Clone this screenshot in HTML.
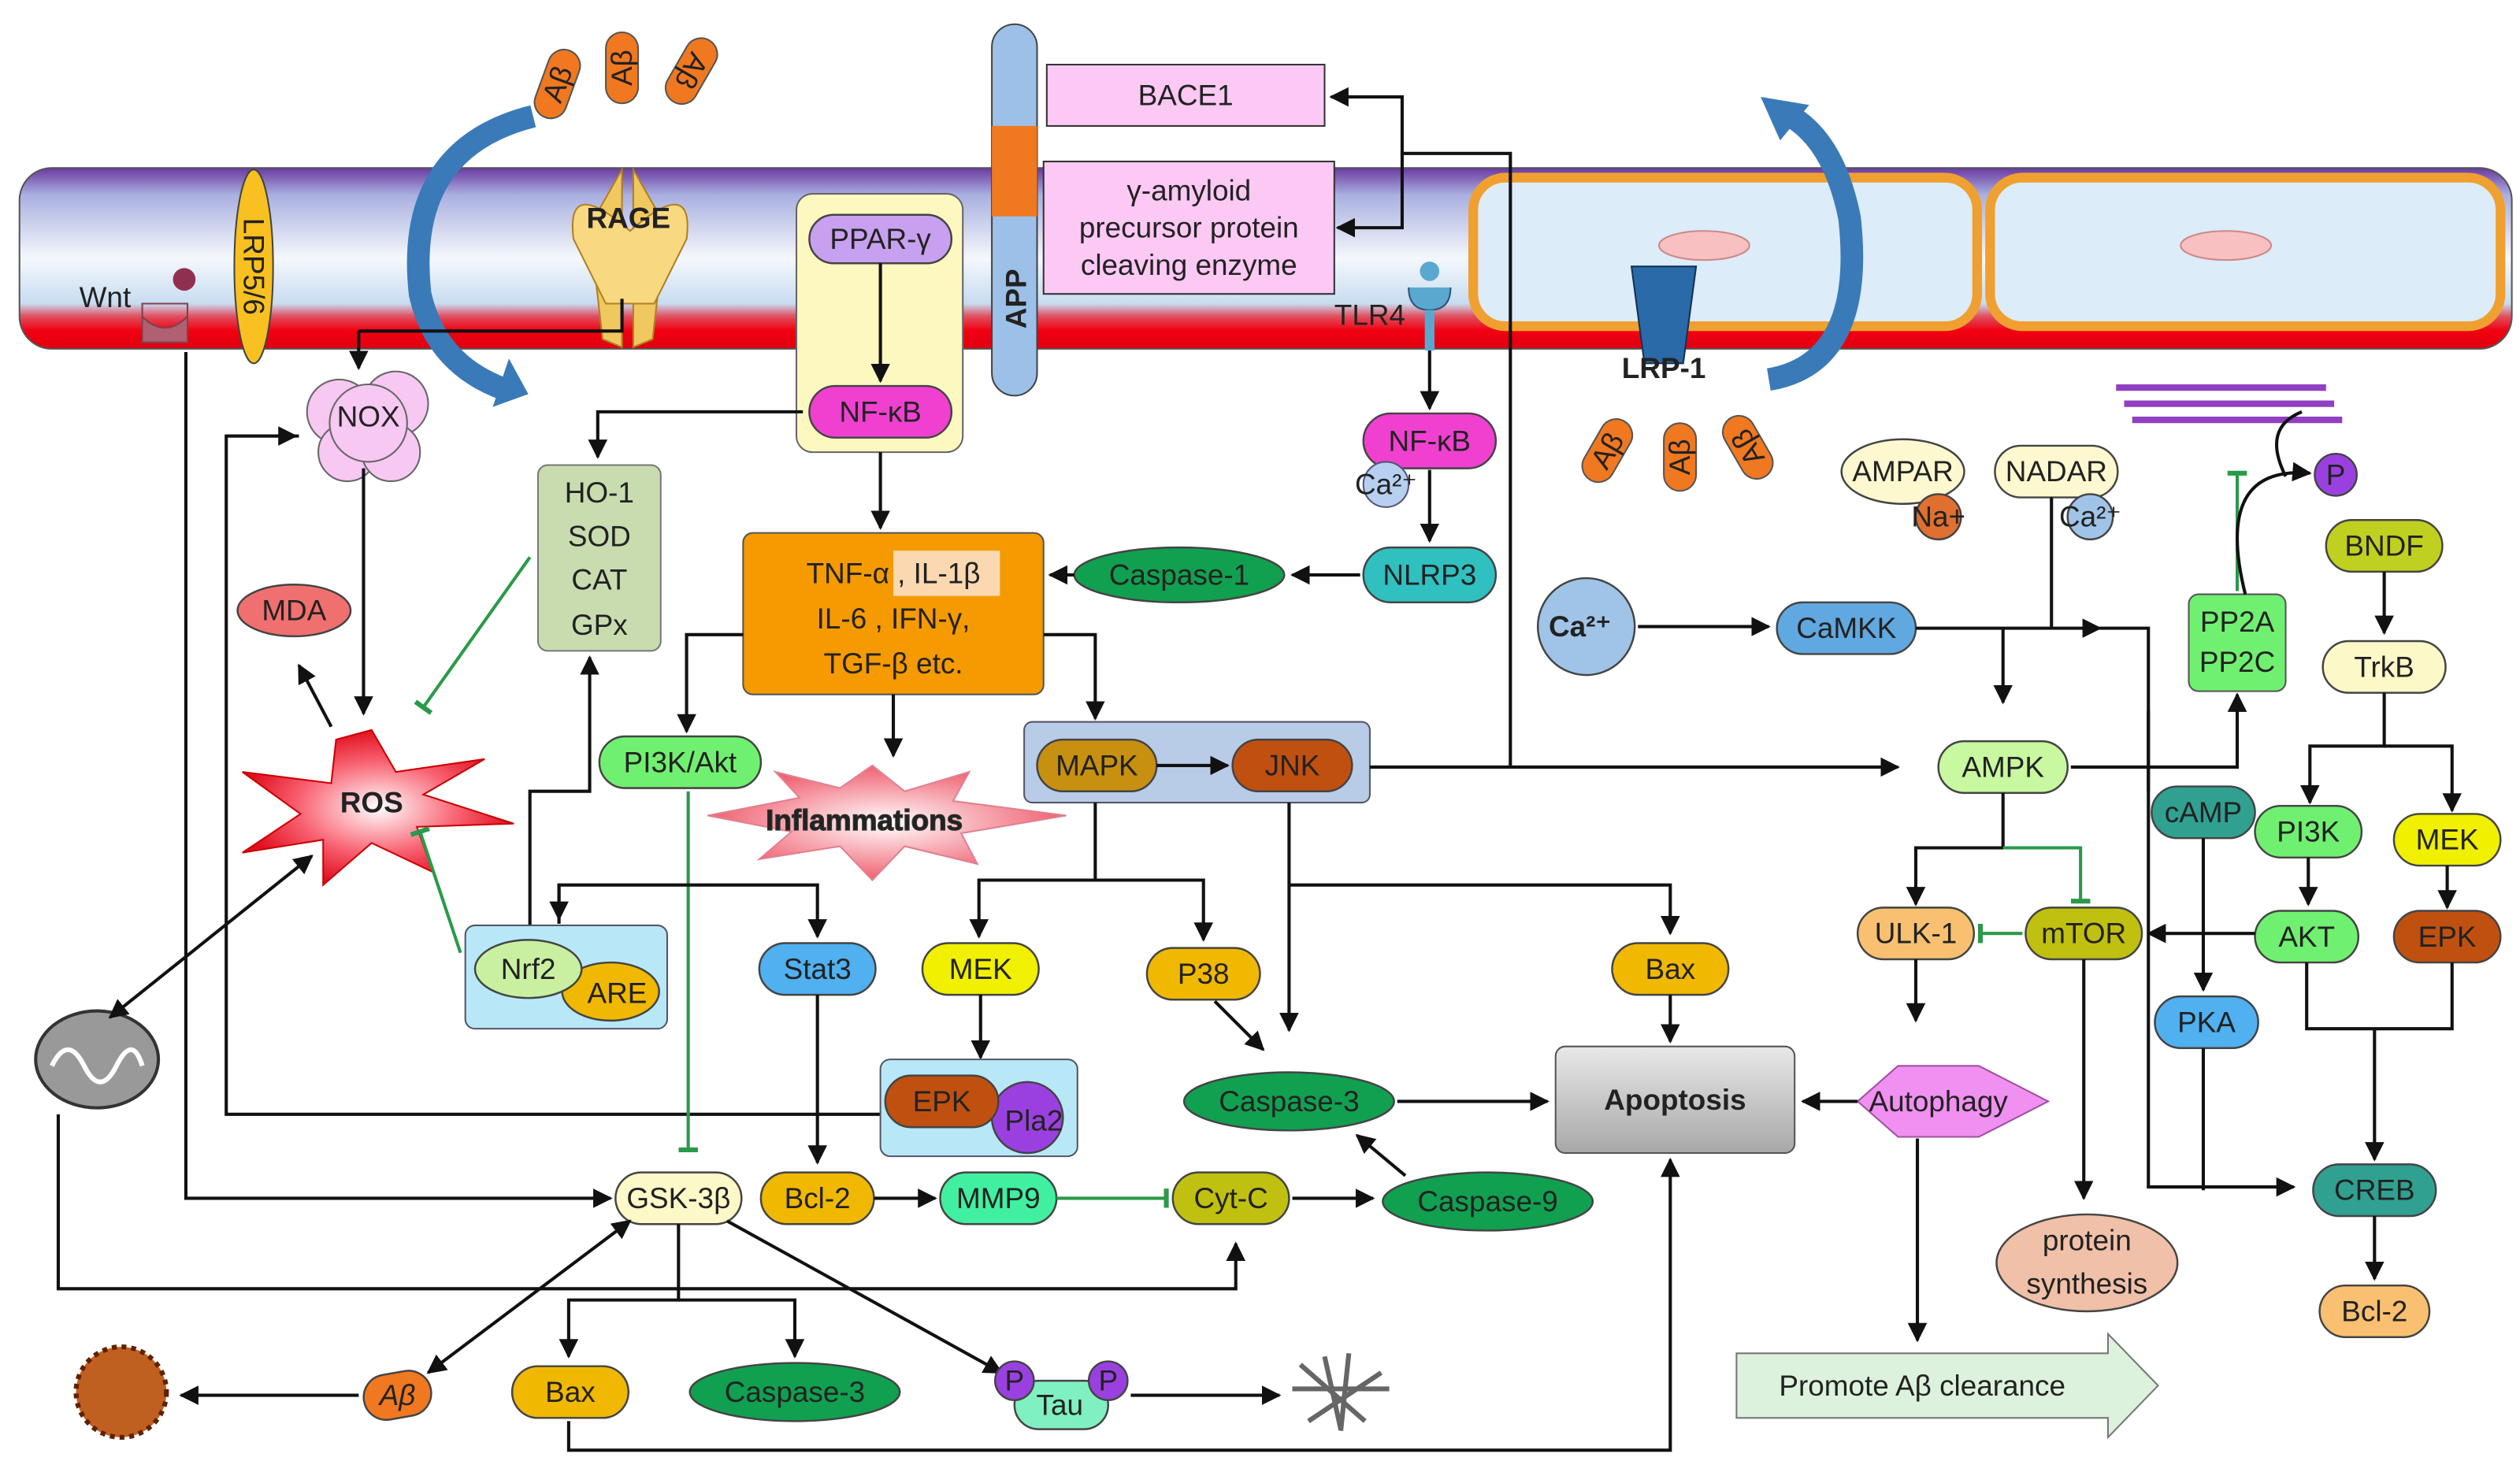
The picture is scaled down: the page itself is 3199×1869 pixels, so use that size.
<!DOCTYPE html>
<html><head><meta charset="utf-8"><style>
html,body{margin:0;padding:0;background:#fff}
svg{display:block}
text{font-family:"Liberation Sans",sans-serif;font-size:18px;fill:#222;text-anchor:middle;dominant-baseline:central}
.l{stroke:#111;stroke-width:2;fill:none}
.g{stroke:#2a9a4a;stroke-width:2;fill:none}
.n{stroke:#444;stroke-width:1.2}
</style></head><body>
<svg width="3199" height="1869" viewBox="0 0 1560 911.5" xmlns="http://www.w3.org/2000/svg">
<defs>
<marker id="a" viewBox="0 0 10 10" refX="9" refY="5" markerWidth="6" markerHeight="6" orient="auto-start-reverse"><path d="M0,0L10,5L0,10z" fill="#111"/></marker>
<marker id="t" viewBox="0 0 10 10" refX="5" refY="5" markerWidth="6" markerHeight="6" orient="auto"><path d="M5,0V10" stroke="#2a9a4a" stroke-width="2.5"/></marker>
<linearGradient id="mem" x1="0" y1="0" x2="0" y2="1">
<stop offset="0" stop-color="#6a3aa0"/><stop offset="0.15" stop-color="#aab0e0"/><stop offset="0.5" stop-color="#f4f8fc"/><stop offset="0.75" stop-color="#c8dcf0"/><stop offset="0.82" stop-color="#e05060"/><stop offset="0.9" stop-color="#f00010"/><stop offset="1" stop-color="#e00010"/></linearGradient>
<linearGradient id="apo" x1="0" y1="0" x2="0" y2="1"><stop offset="0" stop-color="#e8e8e8"/><stop offset="1" stop-color="#a8a8a8"/></linearGradient>
<radialGradient id="ros"><stop offset="0" stop-color="#fff"/><stop offset="0.6" stop-color="#f86070"/><stop offset="1" stop-color="#e01020"/></radialGradient>
<radialGradient id="inf"><stop offset="0" stop-color="#fff"/><stop offset="1" stop-color="#f06070"/></radialGradient>
</defs>

<!-- membrane -->
<rect x="12" y="104" width="1543" height="112" rx="20" fill="url(#mem)" stroke="#555" stroke-width="1"/>
<rect x="912" y="110" width="312" height="92" rx="20" fill="#dcecf8" stroke="#f0a030" stroke-width="6"/>
<rect x="1232" y="110" width="316" height="92" rx="20" fill="#dcecf8" stroke="#f0a030" stroke-width="6"/>
<ellipse cx="1055" cy="152" rx="28" ry="9" fill="#f8c0c0" stroke="#c88"/>
<ellipse cx="1378" cy="152" rx="28" ry="9" fill="#f8c0c0" stroke="#c88"/>

<!-- Wnt / LRP5/6 -->
<path d="M88,188h28v8q-14,14-28,0z M88,188v24h28v-24" fill="#b06070" stroke="#804050"/>
<circle cx="114" cy="173" r="7" fill="#903050"/>
<text x="65" y="184" font-size="17">Wnt</text>
<ellipse cx="157" cy="165" rx="12" ry="60" fill="#f8c020" stroke="#444"/>
<text x="157" y="165" transform="rotate(90 157 165)" font-size="16">LRP5/6</text>

<!-- RAGE -->
<path d="M365,140l20,-35v110l-12,-5z" fill="#f0c860" stroke="#b08020"/>
<path d="M412,140l-20,-35v110l12,-5z" fill="#f0c860" stroke="#b08020"/>
<path d="M355,148q-5,-40 35,-5q40,-35 35,5l-20,40h-30z" fill="#f8d880" stroke="#b08020"/>
<text x="389" y="135" font-weight="bold" font-size="17">RAGE</text>
<g fill="#f07820" stroke="#555"><rect x="335" y="30" width="20" height="44" rx="10" transform="rotate(20 345 52)"/><rect x="375" y="20" width="20" height="44" rx="10"/><rect x="418" y="22" width="20" height="44" rx="10" transform="rotate(30 428 44)"/></g>
<text x="345" y="52" transform="rotate(-70 345 52)" font-size="13">Aβ</text>
<text x="385" y="42" transform="rotate(-90 385 42)" font-size="13">Aβ</text>
<text x="428" y="44" transform="rotate(120 428 44)" font-size="13">Aβ</text>
<path d="M330,72q-80,20 -70,110q10,45 55,60" stroke="#3a7ab8" stroke-width="14" fill="none"/>
<path d="M305,252l22,-8l-12,-22z" fill="#3a7ab8"/>

<!-- APP -->
<rect x="614" y="15" width="28" height="230" rx="14" fill="#9cc0e8" stroke="#444"/>
<rect x="614" y="78" width="28" height="56" fill="#f07820"/>
<text x="629" y="185" transform="rotate(-90 629 185)" font-weight="bold" font-size="16">APP</text>
<rect x="648" y="40" width="172" height="38" fill="#fcc8f4" stroke="#333"/>
<text x="734" y="59">BACE1</text>
<rect x="646" y="100" width="180" height="82" fill="#fcc8f4" stroke="#333"/>
<text x="736" y="118" font-size="17">γ-amyloid</text><text x="736" y="141" font-size="17">precursor protein</text><text x="736" y="164" font-size="17">cleaving enzyme</text>
<path class="l" d="M935,475V95H868V60H824" marker-end="url(#a)"/>
<path class="l" d="M868,95V141H828" marker-end="url(#a)"/>

<!-- PPAR box -->
<rect x="493" y="120" width="103" height="160" rx="10" fill="#fdf8c0" stroke="#666"/>
<rect x="501" y="133" width="88" height="30" rx="15" fill="#c8a0f0" class="n"/><text x="545" y="148">PPAR-γ</text>
<rect x="501" y="239" width="88" height="32" rx="16" fill="#f040d0" class="n"/><text x="545" y="255">NF-κB</text>
<path class="l" d="M545,163V236" marker-end="url(#a)"/>
<path class="l" d="M497,255H370V283" marker-end="url(#a)"/>
<path class="l" d="M545,280V327" marker-end="url(#a)"/>

<!-- TLR4 -->
<path d="M872,178q0,14 13,14q13,0 13,-14" fill="#5aa8d0" stroke="#357"/>
<rect x="882" y="192" width="6" height="25" fill="#5aa8d0"/>
<circle cx="885" cy="168" r="6" fill="#5aa8d0"/>
<text x="848" y="195" font-size="16">TLR4</text>
<path class="l" d="M885,217V253" marker-end="url(#a)"/>
<rect x="844" y="256" width="82" height="34" rx="17" fill="#f040d0" class="n"/><text x="885" y="273">NF-κB</text>
<circle cx="858" cy="300" r="14" fill="#b8d0f0" stroke="#557"/><text x="858" y="300" font-size="12">Ca²⁺</text>
<path class="l" d="M885,291V335" marker-end="url(#a)"/>
<rect x="844" y="339" width="82" height="34" rx="17" fill="#30c0c0" class="n"/><text x="885" y="356">NLRP3</text>
<path class="l" d="M842,356H800" marker-end="url(#a)"/>
<ellipse cx="730" cy="356" rx="65" ry="17" fill="#10a050" class="n"/><text x="730" y="356">Caspase-1</text>
<path class="l" d="M665,356H650" marker-end="url(#a)"/>

<!-- LRP-1 -->
<path d="M1010,165h40l-8,60h-24z" fill="#2a6aa8" stroke="#135"/>
<text x="1030" y="228" font-weight="bold" font-size="16">LRP-1</text>
<g fill="#f07820" stroke="#555"><rect x="985" y="258" width="20" height="42" rx="10" transform="rotate(30 995 279)"/><rect x="1030" y="262" width="20" height="42" rx="10"/><rect x="1072" y="256" width="20" height="42" rx="10" transform="rotate(-30 1082 277)"/></g>
<text x="995" y="279" transform="rotate(-60 995 279)" font-size="13">Aβ</text><text x="1040" y="283" transform="rotate(-90 1040 283)" font-size="13">Aβ</text><text x="1082" y="277" transform="rotate(-120 1082 277)" font-size="13">Aβ</text>
<path d="M1095,235q60,-10 50,-100q-10,-50 -40,-65" stroke="#3a7ab8" stroke-width="14" fill="none"/>
<path d="M1090,60l30,5l-18,22z" fill="#3a7ab8"/>

<!-- NOX, MDA, ROS, HO-1 -->
<g fill="#f6c8f2" stroke="#666"><circle cx="210" cy="255" r="20"/><circle cx="245" cy="250" r="20"/><circle cx="215" cy="280" r="18"/><circle cx="242" cy="280" r="18"/><circle cx="228" cy="262" r="24"/></g>
<text x="228" y="258">NOX</text>
<path class="l" d="M225,290V442" marker-end="url(#a)"/>
<path class="l" d="M222,205H385V185" /><path class="l" d="M222,205V228" marker-end="url(#a)"/>
<path class="l" d="M185,270H140V690H545" /><path class="l" d="M140,270H183" marker-end="url(#a)"/>
<ellipse cx="182" cy="378" rx="35" ry="16" fill="#f07070" class="n"/><text x="182" y="378">MDA</text>
<path class="l" d="M205,450L185,412" marker-end="url(#a)"/>
<polygon points="230,452 245,478 300,470 262,492 318,510 258,512 268,540 230,522 200,548 200,520 150,528 186,504 150,478 205,485 208,458" fill="url(#ros)" stroke="#c00"/>
<text x="230" y="497" font-weight="bold">ROS</text>
<rect x="333" y="288" width="76" height="115" rx="6" fill="#c8dcb0" stroke="#777"/>
<text x="371" y="305">HO-1</text><text x="371" y="332">SOD</text><text x="371" y="359">CAT</text><text x="371" y="387">GPx</text>
<path class="g" d="M328,345L262,438" marker-end="url(#t)"/>

<!-- TNF -->
<rect x="460" y="330" width="186" height="100" rx="6" fill="#f59a00" stroke="#555"/>
<rect x="553" y="341" width="66" height="28" fill="#fbd8b0"/>
<text x="553" y="355">TNF-α , IL-1β</text><text x="553" y="383">IL-6 , IFN-γ,</text><text x="553" y="411">TGF-β etc.</text>
<path class="l" d="M460,393H425V453" marker-end="url(#a)"/>
<path class="l" d="M646,393H678V445" marker-end="url(#a)"/>
<path class="l" d="M553,430V468" marker-end="url(#a)"/>

<!-- PI3K/Akt, Inflammations -->
<rect x="371" y="456" width="100" height="32" rx="16" fill="#70f070" class="n"/><text x="421" y="472">PI3K/Akt</text>
<polygon points="540,474 560,490 600,478 590,496 660,505 595,516 605,535 560,524 540,545 520,524 470,532 490,515 438,505 495,494 480,478 520,488" fill="url(#inf)" stroke="#e08090"/>
<text x="535" y="508" font-weight="bold" fill="#fff" stroke="#333" stroke-width="0.6">Inflammations</text>
<path class="g" d="M426,490V712" marker-end="url(#t)"/>

<!-- MAPK JNK -->
<rect x="634" y="447" width="214" height="50" rx="5" fill="#b8cce8" stroke="#556"/>
<rect x="642" y="458" width="74" height="32" rx="16" fill="#c89010" class="n"/><text x="679" y="474">MAPK</text>
<rect x="763" y="458" width="74" height="32" rx="16" fill="#c05010" class="n"/><text x="800" y="474">JNK</text>
<path class="l" d="M716,474H760" marker-end="url(#a)"/>
<path class="l" d="M848,475H1175" marker-end="url(#a)"/>
<path class="l" d="M678,497V545H606V580" marker-end="url(#a)"/><path class="l" d="M678,545H745V582" marker-end="url(#a)"/>
<path class="l" d="M798,497V638" marker-end="url(#a)"/>
<path class="l" d="M798,548H1034V578" marker-end="url(#a)"/>

<!-- Nrf2 -->
<path class="l" d="M328,575V490H365V407" marker-end="url(#a)"/>
<path class="g" d="M285,590L260,515" marker-end="url(#t)"/>
<rect x="288" y="573" width="125" height="64" rx="6" fill="#b8e8f8" stroke="#556"/>
<ellipse cx="378" cy="614" rx="30" ry="18" fill="#f0b800" class="n"/><text x="382" y="615">ARE</text>
<ellipse cx="327" cy="600" rx="33" ry="18" fill="#c8f0a0" class="n"/><text x="327" y="600">Nrf2</text>
<path class="l" d="M346,572V548H506V580" marker-end="url(#a)"/><path class="l" d="M346,548V569" marker-end="url(#a)"/>
<rect x="470" y="584" width="72" height="32" rx="16" fill="#50b0f0" class="n"/><text x="506" y="600">Stat3</text>
<path class="l" d="M506,616V720" marker-end="url(#a)"/>
<rect x="571" y="584" width="72" height="32" rx="16" fill="#f0f000" class="n"/><text x="607" y="600">MEK</text>
<path class="l" d="M607,616V655" marker-end="url(#a)"/>
<rect x="710" y="587" width="70" height="32" rx="16" fill="#f0b800" class="n"/><text x="745" y="603">P38</text>
<path class="l" d="M752,620L782,650" marker-end="url(#a)"/>

<!-- EPK Pla2 -->
<rect x="545" y="656" width="122" height="60" rx="6" fill="#b8e8f8" stroke="#556"/>
<circle cx="636" cy="692" r="22" fill="#9a40e0" class="n"/><text x="640" y="694">Pla2</text>
<rect x="548" y="666" width="70" height="32" rx="16" fill="#c05010" class="n"/><text x="583" y="682">EPK</text>

<!-- mitochondria -->
<ellipse cx="60" cy="656" rx="38" ry="30" fill="#999" stroke="#333" stroke-width="2"/>
<path d="M32,660q10,-20 20,0q10,20 20,0q10,-20 16,0" stroke="#fff" stroke-width="3" fill="none"/>
<path class="l" d="M68,630L193,530" marker-start="url(#a)" marker-end="url(#a)"/>
<path class="l" d="M36,690V798H765V770" marker-end="url(#a)"/>
<path class="l" d="M115,218V742H378" marker-end="url(#a)"/>

<!-- GSK row -->
<rect x="381" y="726" width="78" height="32" rx="16" fill="#fdf8c8" class="n"/><text x="420" y="742">GSK-3β</text>
<rect x="471" y="726" width="70" height="32" rx="16" fill="#f0b800" class="n"/><text x="506" y="742">Bcl-2</text>
<path class="l" d="M541,742H579" marker-end="url(#a)"/>
<rect x="582" y="726" width="72" height="32" rx="16" fill="#40f0a0" class="n"/><text x="618" y="742">MMP9</text>
<path class="g" d="M654,742H722" marker-end="url(#t)"/>
<rect x="726" y="726" width="72" height="32" rx="16" fill="#c0c010" class="n"/><text x="762" y="742">Cyt-C</text>
<path class="l" d="M800,742H850" marker-end="url(#a)"/>
<ellipse cx="921" cy="744" rx="65" ry="18" fill="#10a050" class="n"/><text x="921" y="744">Caspase-9</text>
<path class="l" d="M870,728L840,703" marker-end="url(#a)"/>
<ellipse cx="798" cy="682" rx="65" ry="18" fill="#10a050" class="n"/><text x="798" y="682">Caspase-3</text>
<path class="l" d="M865,682H958" marker-end="url(#a)"/>
<rect x="998" y="584" width="72" height="32" rx="16" fill="#f0b800" class="n"/><text x="1034" y="600">Bax</text>
<path class="l" d="M1034,616V645" marker-end="url(#a)"/>
<rect x="963" y="648" width="148" height="66" rx="6" fill="url(#apo)" stroke="#555"/>
<text x="1037" y="681" fill="#e01010" font-weight="bold">Apoptosis</text>
<path class="l" d="M420,758V805H352V840" marker-end="url(#a)"/><path class="l" d="M420,805H492V840" marker-end="url(#a)"/>
<path class="l" d="M450,756L620,850" marker-end="url(#a)"/>
<path class="l" d="M390,756L265,850" marker-start="url(#a)" marker-end="url(#a)"/>
<path class="l" d="M352,880V898H1034V718" marker-end="url(#a)"/>

<!-- bottom -->
<rect x="225" y="850" width="42" height="28" rx="14" fill="#f07820" class="n" transform="rotate(-10 246 864)"/><text x="246" y="864" font-style="italic">Aβ</text>
<path class="l" d="M222,864H112" marker-end="url(#a)"/>
<circle cx="75" cy="862" r="28" fill="#c06020" stroke="#602000" stroke-width="3" stroke-dasharray="3 3"/>
<rect x="317" y="846" width="72" height="32" rx="16" fill="#f0b800" class="n"/><text x="353" y="862">Bax</text>
<ellipse cx="492" cy="862" rx="65" ry="18" fill="#10a050" class="n"/><text x="492" y="862">Caspase-3</text>
<rect x="628" y="855" width="58" height="30" rx="15" fill="#80f0c0" class="n"/><text x="656" y="870">Tau</text>
<circle cx="628" cy="855" r="12" fill="#9a40e0" class="n"/><text x="628" y="855">P</text>
<circle cx="686" cy="855" r="12" fill="#9a40e0" class="n"/><text x="686" y="855">P</text>
<path class="l" d="M700,864H792" marker-end="url(#a)"/>
<g stroke="#666" stroke-width="3" fill="none"><path d="M805,845l40,35M810,880l45,-30M820,840l10,45M835,838l-5,48M800,860h60"/></g>

<!-- right panel -->
<ellipse cx="1178" cy="292" rx="38" ry="20" fill="#fdf8d0" class="n"/><text x="1178" y="292">AMPAR</text>
<circle cx="1200" cy="320" r="14" fill="#e07030" class="n"/><text x="1200" y="320" font-size="12">Na+</text>
<rect x="1235" y="276" width="76" height="32" rx="16" fill="#fdf8d0" class="n"/><text x="1273" y="292">NADAR</text>
<circle cx="1294" cy="320" r="14" fill="#a0c4e8" class="n"/><text x="1294" y="320" font-size="12">Ca²⁺</text>
<circle cx="982" cy="388" r="30" fill="#a0c4e8" class="n"/><text x="978" y="388" font-weight="bold">Ca²⁺</text>
<path class="l" d="M1014,388H1095" marker-end="url(#a)"/>
<rect x="1100" y="373" width="86" height="32" rx="16" fill="#60a8e0" class="n"/><text x="1143" y="389">CaMKK</text>
<path class="l" d="M1186,389H1300" marker-end="url(#a)"/>
<path class="l" d="M1240,389V435" marker-end="url(#a)"/>
<path class="l" d="M1270,308V389"/>
<rect x="1200" y="459" width="80" height="32" rx="16" fill="#c8f8a0" class="n"/><text x="1240" y="475">AMPK</text>
<path class="l" d="M1282,475H1385V430" marker-end="url(#a)"/>
<path class="l" d="M1240,491V525H1186V560" marker-end="url(#a)"/>
<path class="g" d="M1240,525H1288V558" marker-end="url(#t)"/>
<rect x="1150" y="562" width="72" height="32" rx="16" fill="#f8c070" class="n"/><text x="1186" y="578">ULK-1</text>
<rect x="1254" y="562" width="72" height="32" rx="16" fill="#c0c010" class="n"/><text x="1290" y="578">mTOR</text>
<path class="g" d="M1252,578H1226" marker-end="url(#t)"/>
<path class="l" d="M1186,594V632" marker-end="url(#a)"/>
<path class="l" d="M1290,594V742" marker-end="url(#a)"/>
<polygon points="1150,682 1175,660 1225,660 1268,682 1225,704 1175,704" fill="#f090f0" stroke="#a050a0"/>
<text x="1200" y="682">Autophagy</text>
<path class="l" d="M1150,682H1116" marker-end="url(#a)"/>
<path class="l" d="M1187,705V830" marker-end="url(#a)"/>
<ellipse cx="1292" cy="782" rx="56" ry="30" fill="#f0c0a8" class="n"/><text x="1292" y="768">protein</text><text x="1292" y="795">synthesis</text>
<polygon points="1075,838 1305,838 1305,826 1336,858 1305,890 1305,878 1075,878" fill="#dcf2dc" stroke="#777"/>
<text x="1190" y="858">Promote Aβ clearance</text>

<rect x="1355" y="368" width="60" height="60" rx="6" fill="#70f070" stroke="#555"/><text x="1385" y="385">PP2A</text><text x="1385" y="410">PP2C</text>
<path class="g" d="M1385,366V293" marker-end="url(#t)"/>
<path class="l" d="M1390,368q-20,-80 40,-75" marker-end="url(#a)"/>
<g stroke="#9040c0" stroke-width="4"><path d="M1310,240l130,0M1315,250l130,0M1320,260l130,0"/></g>
<path class="l" d="M1425,255q-25,10 -10,40" />
<circle cx="1446" cy="294" r="13" fill="#9a40e0" class="n"/><text x="1446" y="294">P</text>
<rect x="1440" y="322" width="72" height="32" rx="16" fill="#c0d020" class="n"/><text x="1476" y="338">BNDF</text>
<path class="l" d="M1476,354V392" marker-end="url(#a)"/>
<rect x="1438" y="397" width="76" height="32" rx="16" fill="#fdf8c8" class="n"/><text x="1476" y="413">TrkB</text>
<path class="l" d="M1476,429V462H1430V497" marker-end="url(#a)"/><path class="l" d="M1476,462H1518V502" marker-end="url(#a)"/>
<path class="l" d="M1330,440V490"/><path class="l" d="M1300,389H1330V735H1420" marker-end="url(#a)"/>
<rect x="1332" y="487" width="64" height="32" rx="16" fill="#30a090" class="n"/><text x="1364" y="503">cAMP</text>
<path class="l" d="M1364,519V613" marker-end="url(#a)"/>
<rect x="1396" y="499" width="66" height="32" rx="16" fill="#70f070" class="n"/><text x="1429" y="515">PI3K</text>
<path class="l" d="M1429,531V560" marker-end="url(#a)"/>
<rect x="1482" y="504" width="66" height="32" rx="16" fill="#f0f000" class="n"/><text x="1515" y="520">MEK</text>
<path class="l" d="M1515,536V562" marker-end="url(#a)"/>
<rect x="1396" y="564" width="64" height="32" rx="16" fill="#70f070" class="n"/><text x="1428" y="580">AKT</text>
<path class="l" d="M1396,578H1330" marker-end="url(#a)"/>
<rect x="1482" y="564" width="66" height="32" rx="16" fill="#c05010" class="n"/><text x="1515" y="580">EPK</text>
<path class="l" d="M1428,596V637H1518V596"/><path class="l" d="M1470,637V718" marker-end="url(#a)"/>
<rect x="1334" y="617" width="64" height="32" rx="16" fill="#50b0f0" class="n"/><text x="1366" y="633">PKA</text>
<path class="l" d="M1364,649V737"/>
<rect x="1432" y="721" width="76" height="32" rx="16" fill="#30a090" class="n"/><text x="1470" y="737">CREB</text>
<path class="l" d="M1470,753V792" marker-end="url(#a)"/>
<rect x="1436" y="796" width="68" height="32" rx="16" fill="#f8c070" class="n"/><text x="1470" y="812">Bcl-2</text>
</svg>
</body></html>
